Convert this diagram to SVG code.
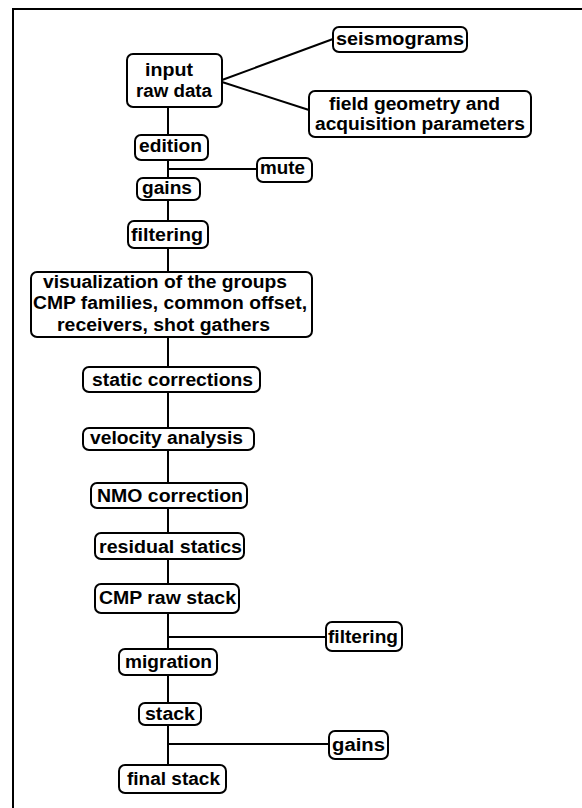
<svg xmlns="http://www.w3.org/2000/svg" width="582" height="808" viewBox="0 0 582 808">
<style>
.box{fill:#fff;stroke:#000;stroke-width:2}
.t{font-family:"Liberation Sans",Arial,sans-serif;font-weight:bold;font-size:18px;fill:#000}
.c{stroke:#000;stroke-width:2;fill:none}
</style>
<rect width="582" height="808" fill="#fff"/>
<g id="frame"><path class="c" d="M12 9H582M13 9V808"/></g>
<g id="connectors">
<path class="c" d="M168 107V765"/>
<path class="c" d="M168 169H257"/>
<path class="c" d="M168 637H326"/>
<path class="c" d="M168 744H329"/>
<path class="c" d="M222 80L333 39"/>
<path class="c" d="M222 82L309 110"/>
</g>
<g id="input"><rect class="box" x="127" y="54" width="95" height="53" rx="6"/><text class="t" x="145" y="76" textLength="48" lengthAdjust="spacingAndGlyphs">input</text><text class="t" x="136" y="97" textLength="76" lengthAdjust="spacingAndGlyphs">raw data</text></g>
<g id="seismograms"><rect class="box" x="333" y="27" width="134" height="25" rx="6"/><text class="t" x="336" y="45" textLength="128" lengthAdjust="spacingAndGlyphs">seismograms</text></g>
<g id="field"><rect class="box" x="309" y="91" width="222" height="46" rx="6"/><text class="t" x="329" y="110" textLength="171" lengthAdjust="spacingAndGlyphs">field geometry and</text><text class="t" x="315" y="130" textLength="210" lengthAdjust="spacingAndGlyphs">acquisition parameters</text></g>
<g id="edition"><rect class="box" x="135" y="135" width="73" height="25" rx="6"/><text class="t" x="139" y="152" textLength="63" lengthAdjust="spacingAndGlyphs">edition</text></g>
<g id="mute"><rect class="box" x="257" y="158" width="55" height="24" rx="6"/><text class="t" x="260" y="174" textLength="45" lengthAdjust="spacingAndGlyphs">mute</text></g>
<g id="gains1"><rect class="box" x="137" y="178" width="63" height="22" rx="6"/><text class="t" x="142" y="194" textLength="50" lengthAdjust="spacingAndGlyphs">gains</text></g>
<g id="filtering1"><rect class="box" x="128" y="221" width="80" height="27" rx="6"/><text class="t" x="131" y="241" textLength="72" lengthAdjust="spacingAndGlyphs">filtering</text></g>
<g id="visualization"><rect class="box" x="31" y="272" width="281" height="65" rx="6"/><text class="t" x="43" y="288" textLength="244" lengthAdjust="spacingAndGlyphs">visualization of the groups</text><text class="t" x="33" y="309" textLength="274" lengthAdjust="spacingAndGlyphs">CMP families, common offset,</text><text class="t" x="57" y="331" textLength="213" lengthAdjust="spacingAndGlyphs">receivers, shot gathers</text></g>
<g id="static"><rect class="box" x="83" y="367" width="177" height="25" rx="6"/><text class="t" x="92" y="386" textLength="161" lengthAdjust="spacingAndGlyphs">static corrections</text></g>
<g id="velocity"><rect class="box" x="83" y="428" width="171" height="22" rx="6"/><text class="t" x="90" y="444" textLength="153" lengthAdjust="spacingAndGlyphs">velocity analysis</text></g>
<g id="nmo"><rect class="box" x="91" y="483" width="156" height="25" rx="6"/><text class="t" x="97" y="502" textLength="146" lengthAdjust="spacingAndGlyphs">NMO correction</text></g>
<g id="residual"><rect class="box" x="95" y="533" width="149" height="26" rx="6"/><text class="t" x="99" y="553" textLength="143" lengthAdjust="spacingAndGlyphs">residual statics</text></g>
<g id="cmpraw"><rect class="box" x="95" y="584" width="144" height="29" rx="6"/><text class="t" x="99" y="604" textLength="137" lengthAdjust="spacingAndGlyphs">CMP raw stack</text></g>
<g id="filtering2"><rect class="box" x="326" y="622" width="76" height="29" rx="6"/><text class="t" x="328" y="643" textLength="70" lengthAdjust="spacingAndGlyphs">filtering</text></g>
<g id="migration"><rect class="box" x="119" y="649" width="98" height="26" rx="6"/><text class="t" x="125" y="668" textLength="87" lengthAdjust="spacingAndGlyphs">migration</text></g>
<g id="stack"><rect class="box" x="139" y="703" width="62" height="22" rx="6"/><text class="t" x="145" y="720" textLength="50" lengthAdjust="spacingAndGlyphs">stack</text></g>
<g id="gains2"><rect class="box" x="329" y="731" width="59" height="28" rx="6"/><text class="t" x="332" y="751" textLength="53" lengthAdjust="spacingAndGlyphs">gains</text></g>
<g id="final"><rect class="box" x="119" y="765" width="107" height="28" rx="6"/><text class="t" x="127" y="785" textLength="93" lengthAdjust="spacingAndGlyphs">final stack</text></g>
</svg>
